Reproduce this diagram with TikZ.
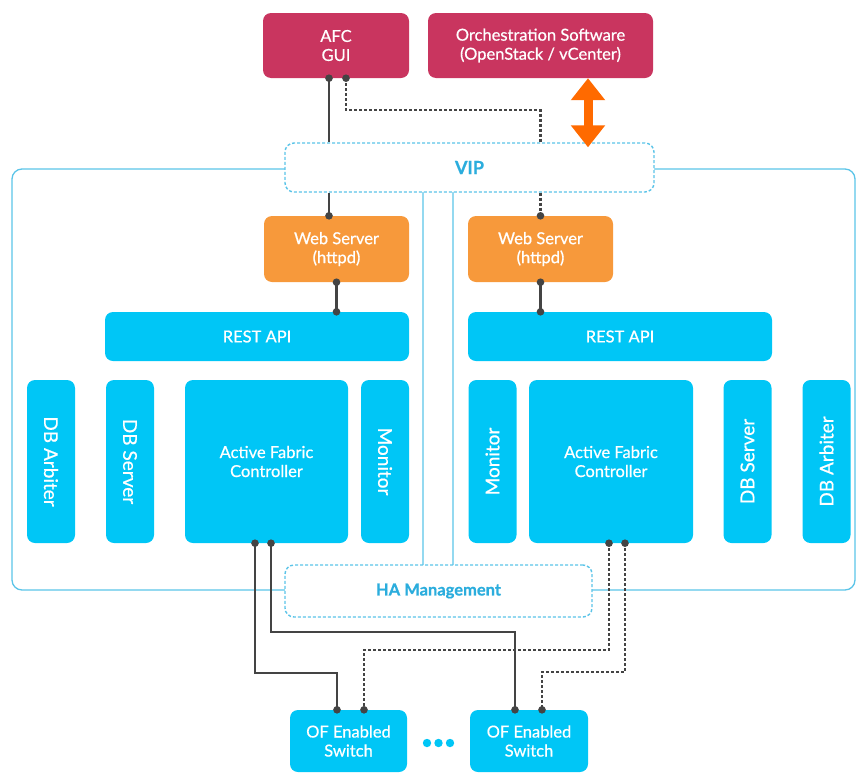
\documentclass[tikz,border=0pt]{standalone}
\usepackage{fontspec}
\setmainfont{Lato}[FakeBold=0.6]
\usetikzlibrary{arrows.meta,calc}

\definecolor{afcpink}{HTML}{C9355F}
\definecolor{weborange}{HTML}{F7993B}
\definecolor{afccyan}{HTML}{00C6F6}
\definecolor{frameblue}{HTML}{5BC4E8}
\definecolor{labelblue}{HTML}{2BADDD}
\definecolor{wire}{HTML}{444444}
\definecolor{arroworange}{HTML}{FF6A00}

\tikzset{
  box/.style={rectangle, rounded corners=8pt, draw=none, text=white, align=center,
    inner sep=0pt, font=\fontsize{16.5}{19}\selectfont},
  pinkbox/.style={box, fill=afcpink},
  webbox/.style={box, fill=weborange},
  cyanbox/.style={box, fill=afccyan},
  vbox/.style={cyanbox, minimum width=48pt, minimum height=163pt, font=\fontsize{19}{22}\selectfont},
  cluster/.style={rectangle, rounded corners=10pt, draw=frameblue, line width=1.3pt, inner sep=0pt},
  sharedbox/.style={rectangle, rounded corners=9pt, draw=frameblue, dashed, dash pattern=on 3pt off 2pt,
    line width=1.4pt, fill=white, text=labelblue, font=\fontsize{16.5}{19}\selectfont\bfseries, inner sep=0pt},
  link/.style={draw=wire, line width=2.2pt},
  dlink/.style={link, dash pattern=on 3pt off 2pt},
  pin/.style={fill=wire},
  bigarrow/.style={draw=arroworange, line width=9pt,
    {Triangle[length=22pt,width=33pt]}-{Triangle[length=22pt,width=33pt]}}
}

\begin{document}
\begin{tikzpicture}[x=1pt,y=-1pt]
\useasboundingbox (0,0) rectangle (857,774);

% cluster outlines (two controller nodes)
\node[cluster, minimum width=411pt, minimum height=421pt] (clusterL) at (217.5,379.5) {};
\node[cluster, minimum width=402pt, minimum height=421pt] (clusterR) at (654,379.5) {};

% shared virtual IP and HA management
\node[sharedbox, minimum width=369pt, minimum height=49pt] (vip) at (469.5,167.5) {\fontsize{18}{20}\selectfont VIP};
\node[sharedbox, minimum width=307pt, minimum height=52pt] (ha) at (438.5,591) {HA Management};

% clients
\node[pinkbox, minimum width=146pt, minimum height=65pt] (gui) at (336,45.5) {AFC\\GUI};
\node[pinkbox, minimum width=225pt, minimum height=65pt] (orch) at (540.5,45.5) {Orchestration Software\\(OpenStack / vCenter)};

% web servers
\node[webbox, minimum width=145pt, minimum height=66pt] (webL) at (336.5,249) {Web Server\\(httpd)};
\node[webbox, minimum width=145pt, minimum height=66pt] (webR) at (540.5,249) {Web Server\\(httpd)};

% REST APIs
\node[cyanbox, minimum width=304pt, minimum height=49pt] (restL) at (257,336.5) {REST API};
\node[cyanbox, minimum width=304pt, minimum height=49pt] (restR) at (620,336.5) {REST API};

% left controller components
\node[vbox] (dbaL) at (51,461.5) {\rotatebox{-90}{DB Arbiter}};
\node[vbox] (dbsL) at (130,461.5) {\rotatebox{-90}{DB Server}};
\node[cyanbox, minimum width=163pt, minimum height=163pt] (afcL) at (266.5,461.5) {Active Fabric\\Controller};
\node[vbox] (monL) at (385,461.5) {\rotatebox{-90}{Monitor}};

% right controller components
\node[vbox] (monR) at (492.5,461.5) {\rotatebox{90}{Monitor}};
\node[cyanbox, minimum width=164pt, minimum height=163pt] (afcR) at (611,461.5) {Active Fabric\\Controller};
\node[vbox] (dbsR) at (747.5,461.5) {\rotatebox{90}{DB Server}};
\node[vbox] (dbaR) at (826.5,461.5) {\rotatebox{90}{DB Arbiter}};

% switches
\node[cyanbox, minimum width=117pt, minimum height=62pt] (swL) at (348.5,741) {OF Enabled\\Switch};
\node[cyanbox, minimum width=118pt, minimum height=62pt] (swR) at (529,741) {OF Enabled\\Switch};
\fill[afccyan] (427,743) circle (4.2pt) (438.5,743) circle (4.2pt) (450,743) circle (4.2pt);

% attachment points
\coordinate (guiA) at ($(gui.south)+(-7,0)$);
\coordinate (guiB) at ($(gui.south)+(10,0)$);
\coordinate (webLtop) at ($(webL.north)+(-7.5,0)$);
\coordinate (afcL1) at ($(afcL.south)+(-11.5,0)$);
\coordinate (afcL2) at ($(afcL.south)+(4.5,0)$);
\coordinate (afcR1) at ($(afcR.south)+(-2,0)$);
\coordinate (afcR2) at ($(afcR.south)+(14,0)$);
\coordinate (swL1) at ($(swL.north)+(-11.5,0)$);
\coordinate (swL2) at ($(swL.north)+(15.5,0)$);
\coordinate (swR1) at ($(swR.north)+(-14,0)$);
\coordinate (swR2) at ($(swR.north)+(13,0)$);
\coordinate (arrowx) at (588,0);

% GUI to the VIP, then to each web server
\draw[link] (guiA) -- (guiA |- vip.north);
\draw[dlink] (guiB) -- ++(0,32) -| (vip.north -| webR.north);
\draw[link] (webLtop |- vip.south) -- (webLtop);
\draw[dlink] (webR.north |- vip.south) -- (webR.north);

% web servers to REST APIs
\draw[link] (webL.south) -- (webL.south |- restL.north);
\draw[link] (webR.south) -- (webR.south |- restR.north);

% controllers to switches
\draw[link] (afcL1) |- ($(swL1)+(0,-37)$) -- (swL1);
\draw[link] (afcL2) |- ($(swR1)+(0,-78)$) -- (swR1);
\draw[dlink] (afcR1) |- ($(swL2)+(0,-60)$) -- (swL2);
\draw[dlink] (afcR2) |- ($(swR2)+(0,-38)$) -- (swR2);

% end points
\foreach \p in {guiA,guiB,webLtop,webR.north,afcL1,afcL2,afcR1,afcR2,swL1,swL2,swR1,swR2,webL.south,webR.south}
  \fill[pin] (\p) circle (3.8pt);
\fill[pin] (webL.south |- restL.north) circle (3.8pt);
\fill[pin] (webR.south |- restR.north) circle (3.8pt);

% orchestration API access
\draw[bigarrow, shorten >=-5pt] (orch.south -| arrowx) -- (vip.north -| arrowx);
\end{tikzpicture}
\end{document}
